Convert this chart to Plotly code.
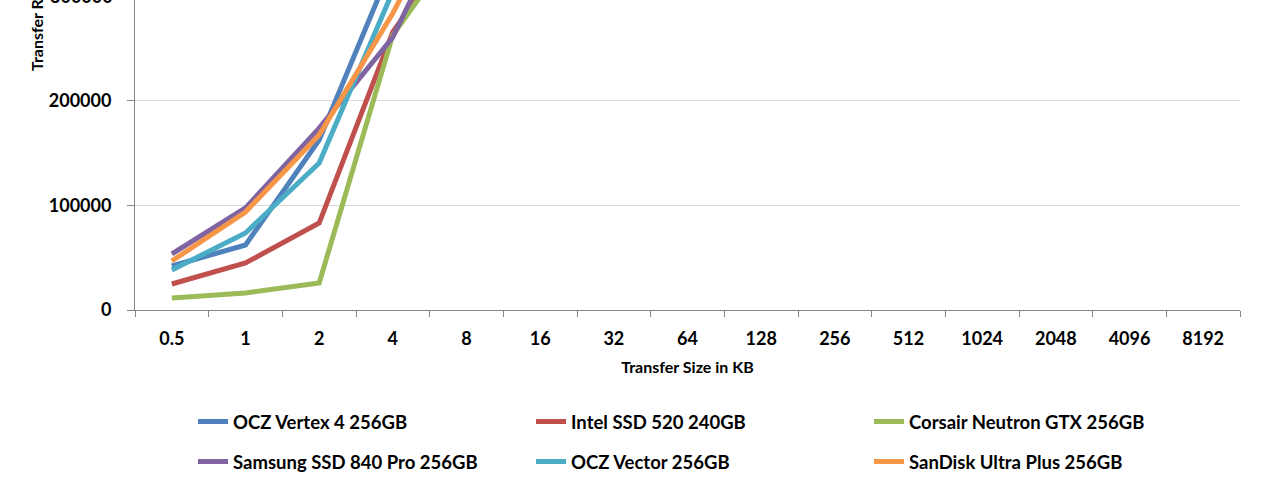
"""ATTO-style read transfer rate by transfer size, cropped view."""

import plotly.graph_objects as go

SIZES = ["0.5", "1", "2", "4", "8", "16", "32", "64", "128", "256", "512",
         "1024", "2048", "4096", "8192"]

VERTEX4 = [42100, 62200, 162700, 332000, 470000, 515000, 535000, 545000,
           550000, 552000, 553000, 553000, 553000, 553000, 553000]
INTEL520 = [24900, 45000, 83200, 266000, 365000, 450000, 500000, 520000,
            530000, 535000, 537000, 537000, 537000, 537000, 537000]
NEUTRON = [11500, 16300, 25800, 263000, 362000, 460000, 510000, 525000,
           530000, 532000, 534000, 534000, 534000, 534000, 534000]
SAMSUNG840 = [53600, 97600, 174000, 261000, 407000, 480000, 520000, 535000,
              540000, 542000, 542000, 542000, 542000, 542000, 542000]
VECTOR = [38300, 73700, 140700, 305000, 465000, 515000, 535000, 545000,
          550000, 552000, 553000, 553000, 553000, 553000, 553000]
ULTRAPLUS = [46900, 93800, 167500, 284000, 420000, 490000, 520000, 530000,
             535000, 537000, 538000, 538000, 538000, 538000, 538000]

SERIES = [
    ("OCZ Vertex 4 256GB", VERTEX4, "#4F81BD", "legend"),
    ("Intel SSD 520 240GB", INTEL520, "#C0504D", "legend"),
    ("Corsair Neutron GTX 256GB", NEUTRON, "#9BBB59", "legend"),
    ("Samsung SSD 840 Pro 256GB", SAMSUNG840, "#8064A2", "legend2"),
    ("OCZ Vector 256GB", VECTOR, "#4BACC6", "legend2"),
    ("SanDisk Ultra Plus 256GB", ULTRAPLUS, "#F79646", "legend2"),
]

FONT = "Lato"
AXIS_GRAY = "#868686"
H = 491

fig = go.Figure()
for name, vals, color, leg in SERIES:
    fig.add_trace(
        go.Scatter(
            x=SIZES,
            y=vals,
            mode="lines",
            name=name,
            legend=leg,
            line=dict(color=color, width=5),
        )
    )

legend_common = dict(
    orientation="h",
    xref="container",
    yref="container",
    x=193 / 1280,
    xanchor="left",
    yanchor="middle",
    entrywidth=293,
    entrywidthmode="pixels",
    font=dict(family=FONT, size=18.5, color="#000000", weight="bold"),
    bgcolor="rgba(0,0,0,0)",
)

fig.update_layout(
    width=1280,
    height=H,
    margin=dict(l=135, r=40, t=0, b=181, autoexpand=False),
    paper_bgcolor="white",
    plot_bgcolor="white",
    showlegend=True,
    legend=dict(**legend_common, y=1 - 422 / H),
    legend2=dict(**legend_common, y=1 - 462 / H),
    xaxis=dict(
        type="category",
        range=[-0.5, len(SIZES) - 0.5],
        automargin=False,
        tickson="boundaries",
        ticks="outside",
        ticklen=6,
        tickcolor=AXIS_GRAY,
        showline=True,
        linecolor=AXIS_GRAY,
        linewidth=1,
        showgrid=False,
        ticklabelstandoff=12,
        tickfont=dict(family=FONT, size=18, color="#000000", weight="bold"),
        title=dict(
            text="Transfer Size in KB",
            font=dict(family=FONT, size=16, color="#000000", weight="bold"),
            standoff=14,
        ),
    ),
    yaxis=dict(
        range=[0, 296600],
        automargin=False,
        tickvals=[0, 100000, 200000],
        ticktext=["0", "100000", "200000"],
        ticks="outside",
        ticklen=7,
        tickcolor=AXIS_GRAY,
        showline=True,
        linecolor=AXIS_GRAY,
        linewidth=1,
        showgrid=True,
        gridcolor="#D9D9D9",
        zeroline=False,
        ticklabelstandoff=12,
        tickfont=dict(family=FONT, size=18, color="#000000", weight="bold"),
    ),
    annotations=[
        dict(
            text="300000",
            xref="paper",
            yref="paper",
            x=0,
            y=1.012,
            xanchor="right",
            yanchor="middle",
            xshift=-20,
            showarrow=False,
            font=dict(family=FONT, size=18, color="#000000", weight="bold"),
        ),
        dict(
            text="Transfer Rate in KB/s",
            textangle=-90,
            xref="paper",
            yref="paper",
            x=0,
            xshift=-99,
            y=(310 - 73) / 310,
            xanchor="center",
            yanchor="bottom",
            showarrow=False,
            font=dict(family=FONT, size=16, color="#000000", weight="bold"),
        ),
    ],
)

# the default page has an 8px body margin; drop it so the chart sits at 0,0
fig.write_html(
    "out.html",
    config={"displayModeBar": False},
    post_script="document.body.style.margin = '0';",
)
